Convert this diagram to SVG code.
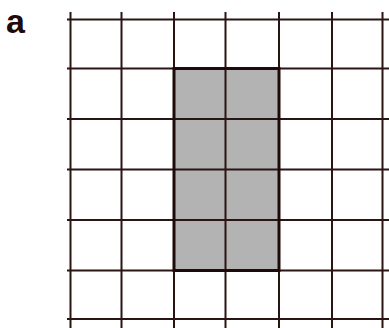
<svg xmlns="http://www.w3.org/2000/svg" width="389" height="328" viewBox="0 0 389 328">
<style>
.g{stroke:#2a1414;stroke-width:2;fill:none}
.f{fill:#b3b3b3}
.o{fill:none;stroke:#1e0a0a;stroke-width:3}
.t{font-family:"Liberation Sans",Arial,sans-serif;font-weight:bold;font-size:34px;fill:#1e0a0a}
</style>
<rect width="389" height="328" fill="#fff"/>
<g id="shaded">
<rect class="f" x="174" y="68.5" width="105" height="202"/>
</g>
<g id="grid" class="g">
<path d="M70.5 12V328M121.5 12V328M174 12V328M225.5 12V328M279 12V328M332 12V328M382.5 12V328"/>
<path d="M67 19.5H389M67 68.5H389M67 119H389M67 169.5H389M67 220H389M67 270.5H389M67 319H389"/>
</g>
<g id="outline">
<rect class="o" x="174" y="68.5" width="105" height="202"/>
</g>
<g id="label">
<text class="t" x="6" y="33">a</text>
</g>
</svg>
